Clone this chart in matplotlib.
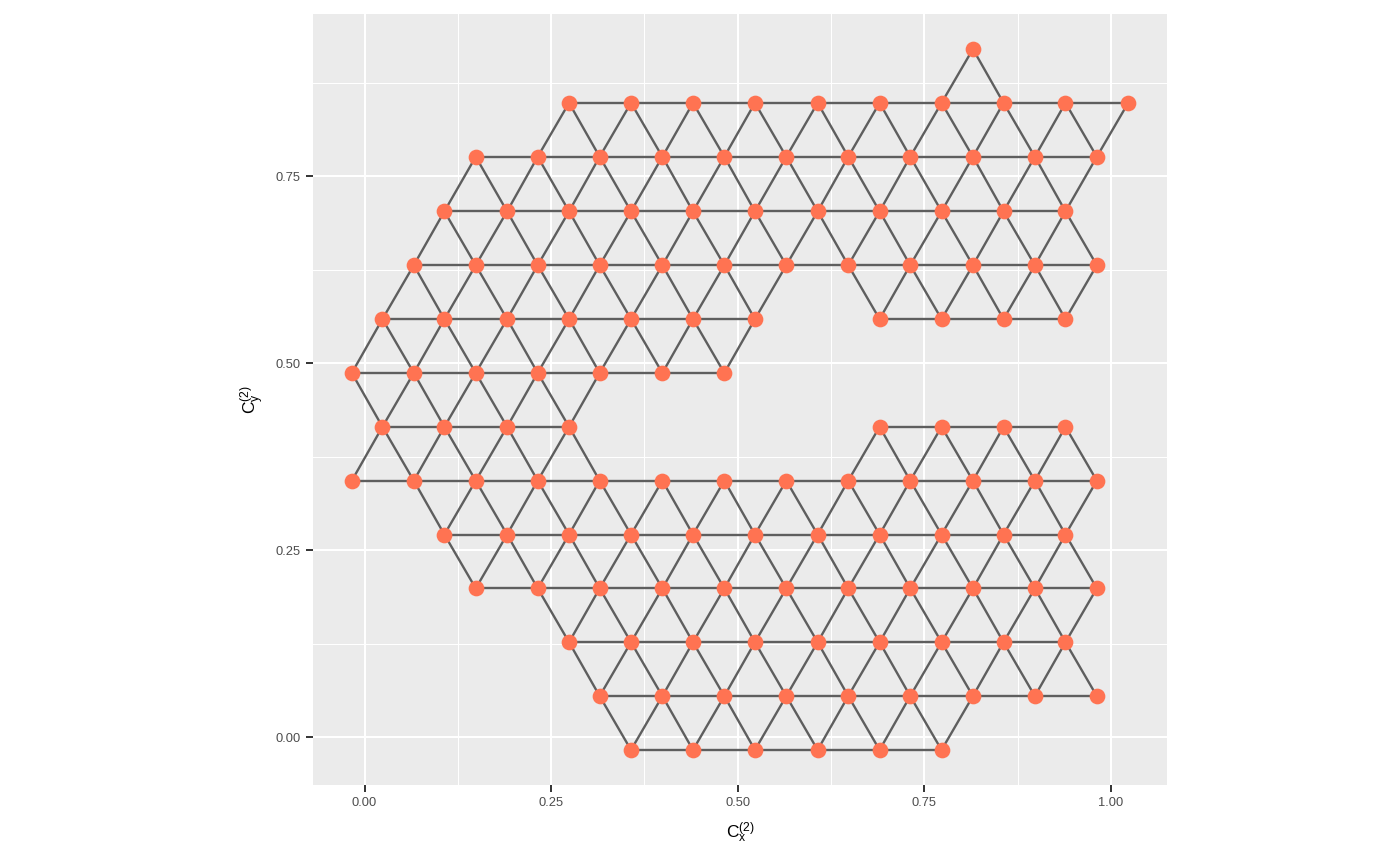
import numpy as np
import matplotlib
matplotlib.use("Agg")
import matplotlib.pyplot as plt
from matplotlib.collections import LineCollection

plt.rcParams['font.family'] = ['Liberation Sans', 'DejaVu Sans']
plt.rcParams['mathtext.fontset'] = 'custom'
plt.rcParams['mathtext.rm'] = 'Liberation Sans'

# row heights (C_y) and the C_x positions of the nodes on each row
row_y = [-0.017, 0.055, 0.127, 0.199, 0.271, 0.343, 0.415,
         0.487, 0.559, 0.631, 0.703, 0.776, 0.848, 0.920]
row_x = [
    [0.357, 0.440, 0.523, 0.607, 0.690, 0.773],
    [0.315, 0.399, 0.482, 0.565, 0.648, 0.731, 0.815, 0.898, 0.981],
    [0.274, 0.357, 0.440, 0.523, 0.607, 0.690, 0.773, 0.856, 0.939],
    [0.149, 0.232, 0.315, 0.399, 0.482, 0.565, 0.648, 0.731, 0.815, 0.898, 0.981],
    [0.107, 0.191, 0.274, 0.357, 0.440, 0.523, 0.607, 0.690, 0.773, 0.856, 0.939],
    [-0.017, 0.066, 0.149, 0.232, 0.315, 0.399, 0.482, 0.565, 0.648, 0.731, 0.815, 0.898, 0.981],
    [0.024, 0.107, 0.191, 0.274, 0.690, 0.773, 0.856, 0.939],
    [-0.017, 0.066, 0.149, 0.232, 0.315, 0.399, 0.482],
    [0.024, 0.107, 0.191, 0.274, 0.357, 0.440, 0.523, 0.690, 0.773, 0.856, 0.939],
    [0.066, 0.149, 0.232, 0.315, 0.399, 0.482, 0.565, 0.648, 0.731, 0.815, 0.898, 0.981],
    [0.107, 0.191, 0.274, 0.357, 0.440, 0.523, 0.607, 0.690, 0.773, 0.856, 0.939],
    [0.149, 0.232, 0.315, 0.399, 0.482, 0.565, 0.648, 0.731, 0.815, 0.898, 0.981],
    [0.274, 0.357, 0.440, 0.523, 0.607, 0.690, 0.773, 0.856, 0.939, 1.023],
    [0.815],
]

xs = np.array([x for r, y in zip(row_x, row_y) for x in r])
ys = np.array([y for r, y in zip(row_x, row_y) for x in r])

# neighbouring nodes of the lattice are joined
segs = []
for i in range(len(xs)):
    for j in range(i + 1, len(xs)):
        if np.hypot(xs[i] - xs[j], ys[i] - ys[j]) < 0.11:
            segs.append([(xs[i], ys[i]), (xs[j], ys[j])])

fig = plt.figure(figsize=(14, 8.65), dpi=100)
ax = fig.add_axes([313 / 1400, 80 / 865, 854 / 1400, 771 / 865])
ax.set_facecolor('#EBEBEB')
for s in ax.spines.values():
    s.set_visible(False)

ax.add_collection(LineCollection(segs, colors='#5E5E5E', linewidths=1.7, zorder=2))
ax.scatter(xs, ys, s=128, color='#FF7352', linewidths=0, zorder=3)

xr = xs.max() - xs.min()
yr = ys.max() - ys.min()
ax.set_xlim(xs.min() - 0.05 * xr, xs.max() + 0.05 * xr)
ax.set_ylim(ys.min() - 0.05 * yr, ys.max() + 0.05 * yr)

ax.set_xticks([0, 0.25, 0.5, 0.75, 1.0])
ax.set_xticklabels(['0.00', '0.25', '0.50', '0.75', '1.00'])
ax.set_yticks([0, 0.25, 0.5, 0.75])
ax.set_yticklabels(['0.00', '0.25', '0.50', '0.75'])
ax.set_xticks([0.125, 0.375, 0.625, 0.875], minor=True)
ax.set_yticks([0.125, 0.375, 0.625, 0.875], minor=True)
ax.grid(which='major', color='white', linewidth=1.5)
ax.grid(which='minor', color='white', linewidth=0.75)
ax.set_axisbelow(True)
ax.tick_params(which='major', length=5, width=1.4, color='#333333',
               labelsize=9.3, labelcolor='#4D4D4D', pad=4)
ax.tick_params(which='minor', length=0)

ax.set_xlabel(r'$\mathregular{C_x^{(2)}}$', fontsize=12.5)
ax.set_ylabel(r'$\mathregular{C_y^{(2)}}$', fontsize=12.5)
ax.xaxis.set_label_coords(0.5, -0.046)
ax.yaxis.set_label_coords(-0.054, 0.5)

fig.savefig('out.png', dpi=100)
